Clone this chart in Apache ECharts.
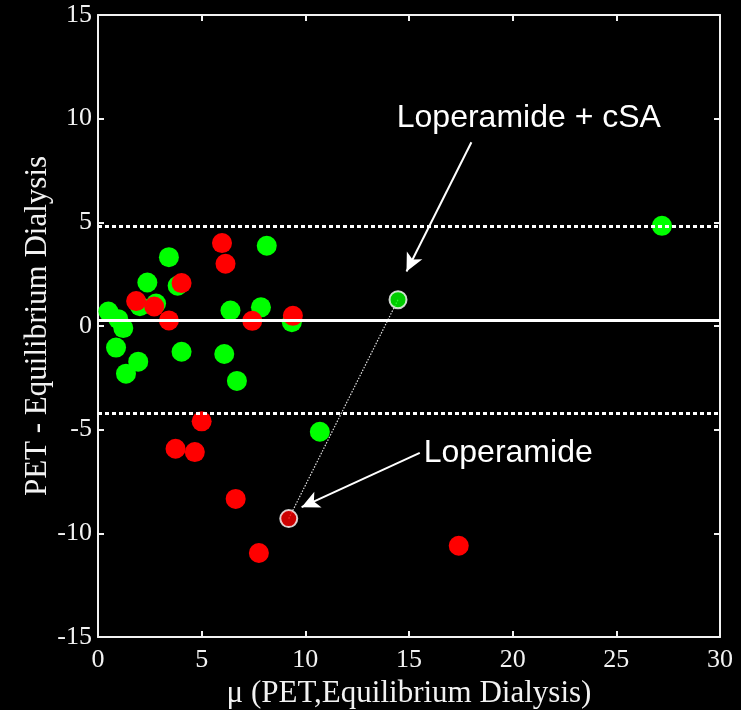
<!DOCTYPE html>
<html>
<head>
<meta charset="utf-8">
<script src="https://cdn.jsdelivr.net/npm/echarts@6/dist/echarts.min.js"></script>
<style>
html,body{margin:0;padding:0;background:#000;}
#chart{width:741px;height:710px;}
</style>
</head>
<body>
<div id="chart"></div>
<script>
// ---- data ----
const greenX = [0.5, 0.98, 1.22, 0.87, 1.35, 1.94, 2.02, 2.38, 2.8, 3.42, 3.84, 4.03, 6.09, 6.39, 6.70, 7.86, 8.14, 9.35, 10.7, 27.2];
const greenY = [0.7, 0.33, -0.1, -1.04, -2.3, -1.72, 0.95, 2.1, 1.08, 3.32, 1.94, -1.24, -1.35, 0.75, -2.65, 0.9, 3.87, 0.18, -5.1, 4.83];
const redX = [1.84, 2.71, 3.42, 4.03, 3.74, 4.67, 5.0, 5.98, 6.15, 6.64, 7.44, 7.76, 9.4, 17.4];
const redY = [1.2, 0.94, 0.27, 2.07, -5.92, -6.08, -4.6, 4.0, 3.0, -8.34, 0.25, -10.95, 0.49, -10.6];
const loperamide = [9.2, -9.29];
const loperamideCSA = [14.47, 1.27];
const meanDiff = 0.3;
const upperLimit = 4.8;
const lowerLimit = -4.2;
const xTicks = [0, 5, 10, 15, 20, 25, 30];
const yTicks = [-15, -10, -5, 0, 5, 10, 15];
const annotCSA = {text: 'Loperamide + cSA', at: [14.41, 10.0], arrowFrom: [18.01, 8.86], arrowTo: [14.88, 2.63]};
const annotLop = {text: 'Loperamide', at: [15.71, -6.15], arrowFrom: [15.52, -6.12], arrowTo: [9.82, -8.74]};

const serif = 'Liberation Serif, Times New Roman, serif';
const sans = 'Liberation Sans, Arial, sans-serif';
const zip = (xs, ys) => xs.map((x, i) => [x, ys[i]]);

const axisCommon = {
  axisLine: {show: true, onZero: false, lineStyle: {color: '#f2f2f2', width: 2}},
  axisTick: {show: true, inside: true, length: 6, lineStyle: {color: '#f2f2f2', width: 2}},
  splitLine: {show: false}
};

const chart = echarts.init(document.getElementById('chart'));
chart.setOption({
  backgroundColor: '#000',
  animation: false,
  grid: {left: 98, right: 21, top: 15, bottom: 73, containLabel: false, outerBoundsMode: 'none'},
  xAxis: [
    Object.assign({}, axisCommon, {
      type: 'value', min: xTicks[0], max: xTicks[xTicks.length - 1], interval: 5, position: 'bottom',
      axisLabel: {color: '#f2f2f2', fontFamily: serif, fontSize: 26, margin: 10},
      name: 'μ (PET,Equilibrium Dialysis)', nameLocation: 'middle', nameGap: 36,
      nameTextStyle: {color: '#f2f2f2', fontFamily: serif, fontSize: 31}
    }),
    Object.assign({}, axisCommon, {
      type: 'value', min: xTicks[0], max: xTicks[xTicks.length - 1], interval: 5, position: 'top',
      axisLabel: {show: false}
    })
  ],
  yAxis: [
    Object.assign({}, axisCommon, {
      type: 'value', min: yTicks[0], max: yTicks[yTicks.length - 1], interval: 5, position: 'left',
      axisLabel: {color: '#f2f2f2', fontFamily: serif, fontSize: 26, margin: 6},
      name: 'PET - Equilibrium Dialysis', nameLocation: 'middle', nameGap: 45, nameMoveOverlap: false,
      nameTextStyle: {color: '#f2f2f2', fontFamily: serif, fontSize: 31}
    }),
    Object.assign({}, axisCommon, {
      type: 'value', min: yTicks[0], max: yTicks[yTicks.length - 1], interval: 5, position: 'right',
      axisLabel: {show: false}
    })
  ],
  series: [
    {
      type: 'line', name: 'link', data: [loperamide, loperamideCSA],
      symbol: 'none', lineStyle: {color: '#e0e0e0', width: 1.2, type: [1.5, 1.5]},
      z: 1,
      markLine: {
        silent: true, symbol: 'none', label: {show: false},
        data: [
          {yAxis: meanDiff, lineStyle: {color: '#fff', width: 3, type: 'solid'}},
          {yAxis: upperLimit, lineStyle: {color: '#fff', width: 3, type: [4, 3]}},
          {yAxis: lowerLimit, lineStyle: {color: '#fff', width: 3, type: [4, 3]}}
        ]
      }
    },
    {
      type: 'scatter', name: 'green', data: zip(greenX, greenY),
      symbol: 'circle', symbolSize: 20, itemStyle: {color: '#00ff00', opacity: 1}, z: 3
    },
    {
      type: 'scatter', name: 'red', data: zip(redX, redY),
      symbol: 'circle', symbolSize: 20, itemStyle: {color: '#ff0000', opacity: 1}, z: 4
    },
    {
      type: 'scatter', name: 'highlight', z: 5,
      data: [
        {value: loperamide, itemStyle: {color: '#ff0000', borderColor: '#fff', borderWidth: 2}},
        {value: loperamideCSA, itemStyle: {color: '#00ff00', borderColor: '#fff', borderWidth: 2}}
      ],
      symbol: 'circle', symbolSize: 17
    },
    {
      type: 'scatter', name: 'annotations', z: 6, symbolSize: 0, silent: true,
      data: [
        {value: annotCSA.at, label: {formatter: annotCSA.text}},
        {value: annotLop.at, label: {formatter: annotLop.text}}
      ],
      label: {show: true, position: 'right', distance: 0, color: '#ffffff', opacity: 1, textBorderWidth: 0, fontFamily: sans, fontSize: 32},
      markLine: {
        silent: true, symbol: ['none', 'arrow'], symbolSize: [13, 18], label: {show: false},
        lineStyle: {color: '#fff', width: 2, type: 'solid'},
        data: [
          [{coord: annotCSA.arrowFrom}, {coord: annotCSA.arrowTo}],
          [{coord: annotLop.arrowFrom}, {coord: annotLop.arrowTo}]
        ]
      }
    }
  ]
});
</script>
</body>
</html>
